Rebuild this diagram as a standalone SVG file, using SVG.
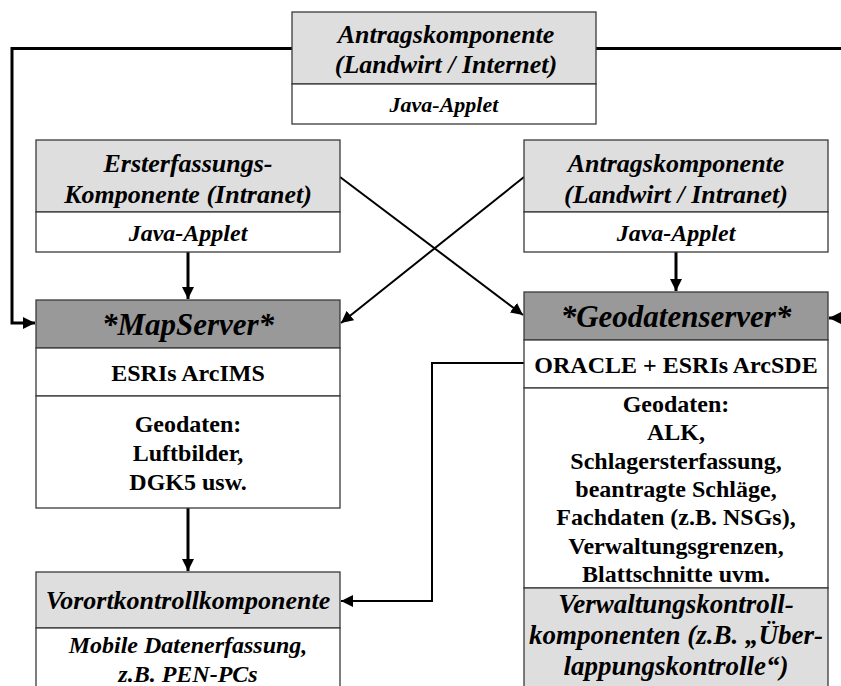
<svg xmlns="http://www.w3.org/2000/svg" width="841" height="686" viewBox="0 0 841 686">
<defs>
<style>
.box{stroke:#3a3a3a;stroke-width:1.3}
.lg{fill:#dedede}
.dg{fill:#999999}
.wh{fill:#ffffff}
text{font-family:"Liberation Serif","Times New Roman",serif;text-anchor:middle;fill:#000}
.h{font-size:26px;font-style:italic;font-weight:bold}
.ht{font-size:26px;font-style:italic;font-weight:bold}
.hv{font-size:27px;font-style:italic;font-weight:bold}
.j{font-size:24px;font-style:italic;font-weight:bold}
.jt{font-size:22px;font-style:italic;font-weight:bold}
.s{font-size:31px;font-style:italic;font-weight:bold}
.b{font-size:24px;font-weight:bold}
.bi{font-size:24px;font-style:italic;font-weight:bold}
.c{fill:none;stroke:#000;stroke-width:3}
.d{fill:none;stroke:#000;stroke-width:2}
</style>
<marker id="ah" viewBox="0 0 12 12" refX="12" refY="6" markerWidth="12" markerHeight="12" markerUnits="userSpaceOnUse" orient="auto">
<path d="M0,0 L12,6 L0,12 Z" fill="#000"/>
</marker>
</defs>
<rect width="841" height="686" fill="#fff"/>

<g id="connectors">
<path class="c" d="M292,48.5 H12 V323 H35" marker-end="url(#ah)"/>
<path class="c" d="M596,48.5 H841"/>
<path class="c" d="M841,318 H829" marker-end="url(#ah)"/>
<path class="c" d="M188,252 V299" marker-end="url(#ah)"/>
<path class="c" d="M676,252 V291" marker-end="url(#ah)"/>
<path class="c" d="M188,508 V571" marker-end="url(#ah)"/>
<path class="d" d="M340,177 L523,315" marker-end="url(#ah)"/>
<path class="d" d="M524,177 L341,323" marker-end="url(#ah)"/>
<path class="d" d="M524,363 H432 V601 H341" marker-end="url(#ah)"/>
</g>

<g id="antrag-internet">
<rect class="box lg" x="292" y="12" width="304" height="72"/>
<rect class="box wh" x="292" y="84" width="304" height="40"/>
<text class="ht" x="446" y="43">Antragskomponente</text>
<text class="ht" x="446" y="73">(Landwirt /  Internet)</text>
<text class="jt" x="444" y="112">Java-Applet</text>
</g>

<g id="ersterfassung">
<rect class="box lg" x="36" y="140" width="304" height="72"/>
<rect class="box wh" x="36" y="212" width="304" height="40"/>
<text class="h" x="188" y="172">Ersterfassungs-</text>
<text class="h" x="188" y="203">Komponente (Intranet)</text>
<text class="j" x="188" y="241">Java-Applet</text>
</g>

<g id="antrag-intranet">
<rect class="box lg" x="524" y="140" width="304" height="72"/>
<rect class="box wh" x="524" y="212" width="304" height="40"/>
<text class="h" x="676" y="172">Antragskomponente</text>
<text class="h" x="676" y="203">(Landwirt / Intranet)</text>
<text class="j" x="676" y="241">Java-Applet</text>
</g>

<g id="mapserver">
<rect class="box dg" x="36" y="300" width="304" height="48"/>
<rect class="box wh" x="36" y="348" width="304" height="48"/>
<rect class="box wh" x="36" y="396" width="304" height="112"/>
<text class="s" x="188" y="335">*MapServer*</text>
<text class="b" x="188" y="381">ESRIs ArcIMS</text>
<text class="b" x="188" y="432">Geodaten:</text>
<text class="b" x="188" y="461">Luftbilder,</text>
<text class="b" x="188" y="490">DGK5 usw.</text>
</g>

<g id="geodatenserver">
<rect class="box dg" x="524" y="292" width="304" height="48"/>
<rect class="box wh" x="524" y="340" width="304" height="48"/>
<rect class="box wh" x="524" y="388" width="304" height="200"/>
<rect class="box lg" x="524" y="588" width="304" height="110"/>
<text class="s" x="676" y="327">*Geodatenserver*</text>
<text class="b" x="676" y="373">ORACLE + ESRIs ArcSDE</text>
<text class="b" x="676" y="412">Geodaten:</text>
<text class="b" x="676" y="440">ALK,</text>
<text class="b" x="676" y="469">Schlagersterfassung,</text>
<text class="b" x="676" y="497">beantragte Schläge,</text>
<text class="b" x="676" y="525">Fachdaten (z.B. NSGs),</text>
<text class="b" x="676" y="554">Verwaltungsgrenzen,</text>
<text class="b" x="676" y="582">Blattschnitte uvm.</text>
<text class="hv" x="676" y="613">Verwaltungskontroll-</text>
<text class="hv" x="676" y="644">komponenten (z.B. „Über-</text>
<text class="hv" x="676" y="675">lappungskontrolle“)</text>
</g>

<g id="vorort">
<rect class="box lg" x="36" y="572" width="304" height="56"/>
<rect class="box wh" x="36" y="628" width="304" height="70"/>
<text class="h" x="188" y="609">Vorortkontrollkomponente</text>
<text class="bi" x="188" y="653">Mobile Datenerfassung,</text>
<text class="bi" x="188" y="682">z.B. PEN-PCs</text>
</g>
</svg>
